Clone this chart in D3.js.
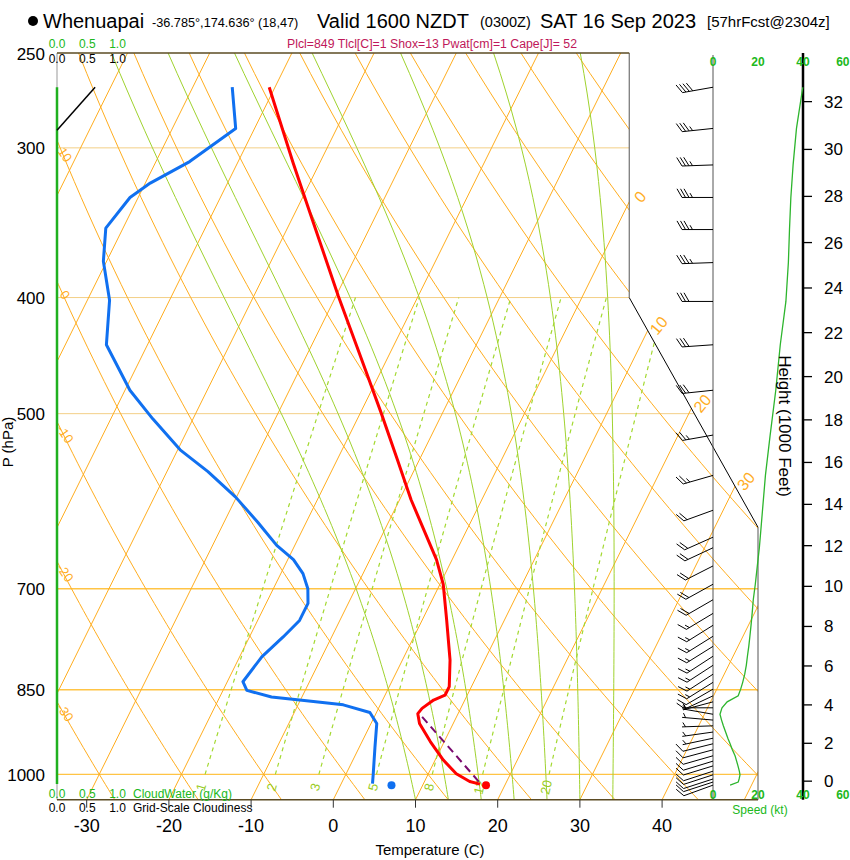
<!DOCTYPE html>
<html>
<head>
<meta charset="utf-8">
<script src="https://cdn.jsdelivr.net/npm/d3@7"></script>
<style>
html,body{margin:0;padding:0;background:#fff;}
svg{display:block;}
text{font-family:"Liberation Sans",Arial,Helvetica,sans-serif;}
</style>
</head>
<body>
<svg id="chart" width="850" height="860"></svg>
<script>
// ---------------- DATA ----------------
const tempP = [267, 309, 334, 399, 447, 499, 547, 590, 644, 662, 694, 744, 803, 845, 859, 867, 881, 890, 907, 939, 973, 999, 1014, 1019];
const tempT = [-50.7, -43.2, -39.1, -29.7, -23.5, -17.5, -12.6, -8.6, -3.5, -1.9, 0.4, 3.0, 5.8, 7.3, 7.3, 6.2, 5.3, 5.1, 5.9, 8.3, 11.0, 13.4, 15.5, 16.9];
const dewP = [267, 289, 308, 321, 330, 350, 373, 402, 438, 478, 505, 536, 559, 587, 616, 644, 662, 680, 700, 720, 744, 768, 798, 837, 851, 862, 867, 875, 888, 907, 949, 999, 1018];
const dewT = [-55.2, -52.3, -55.9, -59.4, -61.0, -62.1, -60.4, -57.3, -55.0, -49.4, -44.9, -39.7, -35.0, -30.1, -25.9, -22.2, -19.3, -17.3, -15.8, -14.9, -14.9, -15.9, -17.3, -18.1, -17.1, -13.7, -10.1, -4.5, -0.8, 0.7, 1.9, 3.3, 3.8];
const parcelP = [1014, 888];
const parcelT = [16.6, 5.1];
const surfaceP = [1021];
const surfaceT = [17.7];
const surfaceTd = [6.2];
const windP = [267, 289, 310, 330, 351, 374, 403, 438, 478, 521, 563, 602, 634, 647, 670, 694, 715, 734, 751, 767, 782, 797, 811, 825, 838, 849, 860, 870, 880, 891, 901, 911, 922, 933, 943, 954, 965, 975, 984, 994, 1001, 1009, 1015, 1021];
const windSpd = [39.9, 37.1, 35.6, 34.6, 34.0, 33.5, 32.4, 29.9, 27.9, 25.4, 23.3, 22.0, 21.0, 20.6, 19.7, 18.8, 17.9, 17.4, 16.9, 16.4, 15.9, 15.3, 14.8, 14.1, 13.2, 12.3, 11.2, 6.3, 4.0, 3.1, 3.8, 4.6, 5.6, 6.6, 7.6, 8.6, 9.8, 10.5, 11.1, 11.7, 12.0, 11.6, 11.2, 7.6];
const windDir = [260, 264, 268, 270, 270, 268, 270, 266, 264, 260, 254, 250, 246, 245, 243, 241, 240, 239, 238, 238, 238, 237, 237, 237, 238, 240, 245, 255, 270, 280, 275, 268, 262, 258, 256, 255, 254, 253, 253, 252, 252, 252, 252, 250];
const cloudP = [290, 267];
const cloudFrac = [0.0, 0.63];
const cloudWaterP = [267, 300, 400, 500, 700, 850, 1000, 1019];
const cloudWater = [0, 0, 0, 0, 0, 0, 0, 0];
const pressureTicks = [250, 300, 400, 500, 700, 850, 1000];
const tempTicks = [-30, -20, -10, 0, 10, 20, 30, 40];
const heightTicks = [0, 2, 4, 6, 8, 10, 12, 14, 16, 18, 20, 22, 24, 26, 28, 30, 32];
const speedTicks = [0, 20, 40, 60];
const fracTicks = [0.0, 0.5, 1.0];
const isothermVals = d3.range(-110, 60, 10);
const dryAdiabatVals = d3.range(-40, 170, 10);
const moistBaseT = [10, 14, 18, 22, 26, 30, 34];   // saturated adiabats, T (C) at 1050 hPa
const mixingRatios = [1, 2, 3, 5, 8, 12, 20];
const isothermLabels = [0, 10, 20, 30];
const dryLabels = [10, 0, -10, -20, -30];

// ---------------- SCALES ----------------
const svg = d3.select("#chart");
const P_TOP = 250, P_BOT = 1050;
const yP = d3.scaleLog().domain([P_TOP, P_BOT]).range([53, 799.7]);
const xT = d3.scaleLinear().domain([0, 10]).range([333.3, 415.5]);
const SKEW = 0.495;
const yBot = yP(P_BOT);
const sx = (T, p) => xT(T) + SKEW * (yBot - yP(p));
const xSpd = d3.scaleLinear().domain([0, 20]).range([713, 758]);
const xCld = d3.scaleLinear().domain([0, 1]).range([57, 117.5]);
const xLeft = 57;
const xRight = xT(36);
const xRight2 = xSpd(20);
const yTop = yP(P_TOP);
const yBreak1 = yP(400), yBreak2 = yP(622);
const framePts = [[xLeft, yTop], [xRight, yTop], [xRight, yBreak1], [xRight2, yBreak2], [xRight2, yBot], [xLeft, yBot]];

// ---------------- PHYSICS HELPERS (Stipanuk-style) ----------------
function esatK(TK) {
  return Math.pow(10, 23.832241 - 5.02808 * Math.log10(TK) - 1.3816e-7 * Math.pow(10, 11.344 - 0.0303998 * TK)
    + 8.1328e-3 * Math.pow(10, 3.49149 - 1302.8844 / TK) - 2949.076 / TK);
}
const wsat = (TK, p) => { const e = esatK(TK); return 622 * e / (p - e); };
const thetaS = (TK, p) => TK * Math.pow(1000 / p, 0.286) * Math.exp(2.6518986 * wsat(TK, p) / TK);
function tsa(os, p) {
  let lo = 150, hi = 330;
  for (let i = 0; i < 50; i++) { const mid = (lo + hi) / 2; if (thetaS(mid, p) > os) hi = mid; else lo = mid; }
  return (lo + hi) / 2 - 273.15;
}
const dryT = (th, p) => (th + 273.15) * Math.pow(p / 1000, 0.286) - 273.15;
function mixTd(w, p) { const ww = w / 1000; const e = ww * p / (0.622 + ww); const l = Math.log(e / 6.112); return 243.5 * l / (17.67 - l); }
const ftToP = ft => 1013.25 * Math.pow(1 - 2.25577e-5 * ft * 0.3048, 5.25588);

const lineXY = d3.line().x(d => d[0]).y(d => d[1]);

// ---------------- CLIP ----------------
svg.append("defs").append("clipPath").attr("id", "plotclip")
  .append("polygon").attr("points", framePts.map(d => d.join(",")).join(" "));
const grid = svg.append("g").attr("clip-path", "url(#plotclip)");

const ORANGE = "#ffad1f";
const ISOBAR = "#ffc445";
const MOIST = "#9fd22e";
const MIXC = "#a3d930";

// isobars
pressureTicks.filter(p => p > 250).forEach(p => {
  grid.append("line").attr("x1", xLeft).attr("x2", xRight2).attr("y1", yP(p)).attr("y2", yP(p))
    .attr("stroke", p >= 700 ? ISOBAR : "#f3cf86").attr("stroke-width", p >= 700 ? 1.3 : 1);
});
// isotherms
isothermVals.forEach(T => {
  grid.append("path").attr("d", lineXY([[sx(T, P_BOT), yP(P_BOT)], [sx(T, P_TOP), yP(P_TOP)]]))
    .attr("fill", "none").attr("stroke", ORANGE).attr("stroke-width", 1);
});
// dry adiabats
const pSamples = d3.range(P_BOT, P_TOP - 1, -10);
dryAdiabatVals.forEach(th => {
  const pts = pSamples.map(p => [sx(dryT(th, p), p), yP(p)]);
  grid.append("path").attr("d", lineXY(pts)).attr("fill", "none").attr("stroke", ORANGE).attr("stroke-width", 1);
});
// saturated adiabats
moistBaseT.forEach(t0 => {
  const os = thetaS(t0 + 273.15, P_BOT);
  const pts = pSamples.map(p => [sx(tsa(os, p), p), yP(p)]);
  grid.append("path").attr("d", lineXY(pts)).attr("fill", "none").attr("stroke", MOIST).attr("stroke-width", 1);
});
// mixing ratio lines
const mixP = d3.range(1000, 399, -20);
mixingRatios.forEach(w => {
  const pts = mixP.map(p => [sx(mixTd(w, p), p), yP(p)]);
  grid.append("path").attr("d", lineXY(pts)).attr("fill", "none").attr("stroke", MIXC)
    .attr("stroke-width", 1.2).attr("stroke-dasharray", "4,4");
});

// ---------------- FRAME ----------------
const fr = svg.append("g");
fr.append("line").attr("x1", xLeft).attr("x2", xLeft).attr("y1", yTop).attr("y2", yBot).attr("stroke", "#999").attr("stroke-width", 1);
fr.append("line").attr("x1", xRight).attr("x2", xRight).attr("y1", yTop).attr("y2", yBreak1).attr("stroke", "#555").attr("stroke-width", 1);
fr.append("line").attr("x1", xRight).attr("x2", xRight2).attr("y1", yBreak1).attr("y2", yBreak2).attr("stroke", "#000").attr("stroke-width", 1);
fr.append("line").attr("x1", xRight2).attr("x2", xRight2).attr("y1", yBreak2).attr("y2", yBot).attr("stroke", "#555").attr("stroke-width", 1);
fr.append("line").attr("x1", xLeft).attr("x2", xRight).attr("y1", yTop).attr("y2", yTop).attr("stroke", "#5b4b23").attr("stroke-width", 1.5);
fr.append("line").attr("x1", xLeft).attr("x2", xRight2).attr("y1", yBot).attr("y2", yBot).attr("stroke", "#5b4b23").attr("stroke-width", 1.5);

// wind axes
fr.append("line").attr("x1", xSpd(0)).attr("x2", xSpd(0)).attr("y1", 55).attr("y2", yBot).attr("stroke", "#555").attr("stroke-width", 1);
fr.append("line").attr("x1", xSpd(40)).attr("x2", xSpd(40)).attr("y1", 53).attr("y2", yBot).attr("stroke", "#000").attr("stroke-width", 2.5);

// ---------------- LABELS ON GRID ----------------
const lab = svg.append("g");
isothermLabels.forEach(T => {
  let yv = yBot - (xRight - xT(T)) / SKEW, xi, yi;
  if (yv >= yTop && yv <= yBreak1) { xi = xRight; yi = yv; }
  else {
    const m = (xRight2 - xRight) / (yBreak2 - yBreak1);
    yi = (xT(T) + SKEW * yBot - xRight + m * yBreak1) / (m + SKEW);
    xi = xRight + m * (yi - yBreak1);
  }
  lab.append("text").attr("transform", `translate(${xi + 11},${yi - 5}) rotate(-50)`)
    .attr("text-anchor", "middle").attr("dominant-baseline", "central")
    .attr("font-size", 16).attr("fill", ORANGE).text(T);
});
dryLabels.forEach(th => {
  const pp = d3.range(P_TOP, P_BOT, 1);
  let best = null;
  pp.forEach(p => { const x = sx(dryT(th, p), p); if (best === null || Math.abs(x - 63) < Math.abs(best[0] - 63)) best = [x, yP(p)]; });
  lab.append("text").attr("transform", `translate(${best[0] + 2},${best[1]}) rotate(55)`)
    .attr("text-anchor", "middle").attr("dominant-baseline", "central")
    .attr("font-size", 13).attr("fill", ORANGE).text(th);
});
mixingRatios.forEach(w => {
  const p1 = 1025, p2 = 1000;
  const x1 = sx(mixTd(w, p1), p1), y1 = yP(p1), x2 = sx(mixTd(w, p2), p2), y2 = yP(p2);
  const ang = Math.atan2(y2 - y1, x2 - x1) * 180 / Math.PI;
  lab.append("text").attr("transform", `translate(${x1},${y1}) rotate(${ang})`)
    .attr("text-anchor", "middle").attr("dominant-baseline", "central")
    .attr("font-size", 13).attr("fill", "#99cc22").text(w);
});

// ---------------- PROFILES ----------------
const prof = svg.append("g");
prof.append("path").attr("d", lineXY(cloudWaterP.map((p, i) => [xCld(cloudWater[i]), yP(p)])))
  .attr("fill", "none").attr("stroke", "#1fb01f").attr("stroke-width", 2.5);
prof.append("path").attr("d", lineXY(cloudP.map((p, i) => [xCld(cloudFrac[i]), yP(p)])))
  .attr("fill", "none").attr("stroke", "#000").attr("stroke-width", 1.5);
prof.append("path").attr("d", lineXY(parcelP.map((p, i) => [sx(parcelT[i], p), yP(p)])))
  .attr("fill", "none").attr("stroke", "#7a0a6e").attr("stroke-width", 2).attr("stroke-dasharray", "8,5");
prof.append("path").attr("d", lineXY(dewP.map((p, i) => [sx(dewT[i], p), yP(p)])))
  .attr("fill", "none").attr("stroke", "#1070f0").attr("stroke-width", 3).attr("stroke-linejoin", "round");
prof.append("path").attr("d", lineXY(tempP.map((p, i) => [sx(tempT[i], p), yP(p)])))
  .attr("fill", "none").attr("stroke", "#ff0000").attr("stroke-width", 3).attr("stroke-linejoin", "round");
surfaceP.forEach((p, i) => {
  prof.append("circle").attr("cx", sx(surfaceT[i], p)).attr("cy", yP(p)).attr("r", 4).attr("fill", "#ff0000");
  prof.append("circle").attr("cx", sx(surfaceTd[i], p)).attr("cy", yP(p)).attr("r", 4).attr("fill", "#1070f0");
});
prof.append("path").attr("d", lineXY(windP.map((p, i) => [xSpd(windSpd[i]), yP(p)])))
  .attr("fill", "none").attr("stroke", "#2db52d").attr("stroke-width", 1.3);

// wind barbs
const barbs = svg.append("g").attr("stroke", "#000").attr("stroke-width", 1).attr("fill", "none");
function drawBarb(x0, y0, dir, spd) {
  const L = 31, FL = 10, GAP = 3.5;
  const r = dir * Math.PI / 180;
  const ux = Math.sin(r), uy = -Math.cos(r);
  const a = 60 * Math.PI / 180;
  const fx = ux * Math.cos(a) - uy * Math.sin(a), fy = ux * Math.sin(a) + uy * Math.cos(a);
  const ex = x0 + L * ux, ey = y0 + L * uy;
  barbs.append("line").attr("x1", x0).attr("y1", y0).attr("x2", ex).attr("y2", ey);
  let s = Math.round(spd / 5) * 5;
  const n10 = Math.floor(s / 10); s -= n10 * 10;
  const n5 = s >= 5 ? 1 : 0;
  let i = 0;
  for (let k = 0; k < n10; k++) {
    const bx = ex - i * GAP * ux, by = ey - i * GAP * uy;
    barbs.append("line").attr("x1", bx).attr("y1", by).attr("x2", bx + FL * fx).attr("y2", by + FL * fy);
    i++;
  }
  if (n5) {
    if (i === 0) i = 1;
    const bx = ex - i * GAP * ux, by = ey - i * GAP * uy;
    barbs.append("line").attr("x1", bx).attr("y1", by).attr("x2", bx + FL / 2 * fx).attr("y2", by + FL / 2 * fy);
  }
}
windP.forEach((p, i) => drawBarb(xSpd(0), yP(p), windDir[i], windSpd[i]));

// ---------------- AXES & TEXT ----------------
const ax = svg.append("g");
pressureTicks.forEach(p => {
  ax.append("text").attr("x", 45).attr("y", yP(p) + 6.5).attr("text-anchor", "end").attr("font-size", 17).attr("fill", "#000").text(p);
});
tempTicks.forEach(T => {
  ax.append("line").attr("x1", xT(T)).attr("x2", xT(T)).attr("y1", yBot).attr("y2", yBot + 8).attr("stroke", "#333").attr("stroke-width", 1);
  ax.append("text").attr("x", xT(T)).attr("y", 832).attr("text-anchor", "middle").attr("font-size", 18).attr("fill", "#000").text(T);
});
ax.append("text").attr("x", 430).attr("y", 855).attr("text-anchor", "middle").attr("font-size", 15).text("Temperature (C)");
ax.append("text").attr("transform", "translate(13,442) rotate(-90)").attr("text-anchor", "middle").attr("font-size", 15).text("P (hPa)");

heightTicks.forEach(h => {
  const yy = yP(ftToP(h * 1000));
  ax.append("line").attr("x1", xSpd(40)).attr("x2", xSpd(40) + 9).attr("y1", yy).attr("y2", yy).attr("stroke", "#000").attr("stroke-width", 1.3);
  ax.append("text").attr("x", 824).attr("y", yy + 6).attr("font-size", 17).attr("fill", "#000").text(h);
});
ax.append("text").attr("transform", "translate(779,426) rotate(90)").attr("text-anchor", "middle").attr("font-size", 17).text("Height (1000 Feet)");

const GREEN = "#20b820";
speedTicks.forEach(s => {
  const last = s === speedTicks[speedTicks.length - 1];
  const xx = last ? 849.5 : xSpd(s);
  const anchor = last ? "end" : "middle";
  ax.append("text").attr("x", xx).attr("y", 66).attr("text-anchor", anchor).attr("font-size", 12).attr("font-weight", "bold").attr("fill", GREEN).text(s);
  ax.append("text").attr("x", xx).attr("y", 799).attr("text-anchor", anchor).attr("font-size", 12).attr("font-weight", "bold").attr("fill", GREEN).text(s);
});
ax.append("text").attr("x", 760).attr("y", 814).attr("text-anchor", "middle").attr("font-size", 12).attr("fill", GREEN).text("Speed (kt)");

fracTicks.forEach(f => {
  ax.append("text").attr("x", xCld(f)).attr("y", 47.5).attr("text-anchor", "middle").attr("font-size", 12).attr("fill", GREEN).text(f.toFixed(1));
  ax.append("text").attr("x", xCld(f)).attr("y", 63).attr("text-anchor", "middle").attr("font-size", 12).attr("fill", "#000").text(f.toFixed(1));
  ax.append("text").attr("x", xCld(f)).attr("y", 798).attr("text-anchor", "middle").attr("font-size", 12).attr("fill", GREEN).text(f.toFixed(1));
  ax.append("text").attr("x", xCld(f)).attr("y", 812).attr("text-anchor", "middle").attr("font-size", 12).attr("fill", "#000").text(f.toFixed(1));
});
ax.append("text").attr("x", 133).attr("y", 798).attr("font-size", 12).attr("fill", GREEN).text("CloudWater (g/Kg)");
ax.append("text").attr("x", 133).attr("y", 812).attr("font-size", 12).attr("fill", "#000").text("Grid-Scale Cloudiness");

const tt = svg.append("g");
tt.append("circle").attr("cx", 33).attr("cy", 21).attr("r", 5).attr("fill", "#000");
const titleParts = [
  [43, 28, 20, "Whenuapai"],
  [152, 27, 12.7, "-36.785°,174.636° (18,47)"],
  [317, 28, 20, "Valid 1600 NZDT"],
  [480, 27, 14.5, "(0300Z)"],
  [540, 28, 20, "SAT 16 Sep 2023"],
  [707, 27, 15, "[57hrFcst@2304z]"]
];
titleParts.forEach(d => tt.append("text").attr("x", d[0]).attr("y", d[1]).attr("font-size", d[2]).attr("fill", "#000").text(d[3]));
tt.append("text").attr("x", 432).attr("y", 48).attr("text-anchor", "middle").attr("font-size", 12.3).attr("fill", "#c0185a")
  .text("Plcl=849 Tlcl[C]=1 Shox=13 Pwat[cm]=1 Cape[J]= 52");
</script>
</body>
</html>
